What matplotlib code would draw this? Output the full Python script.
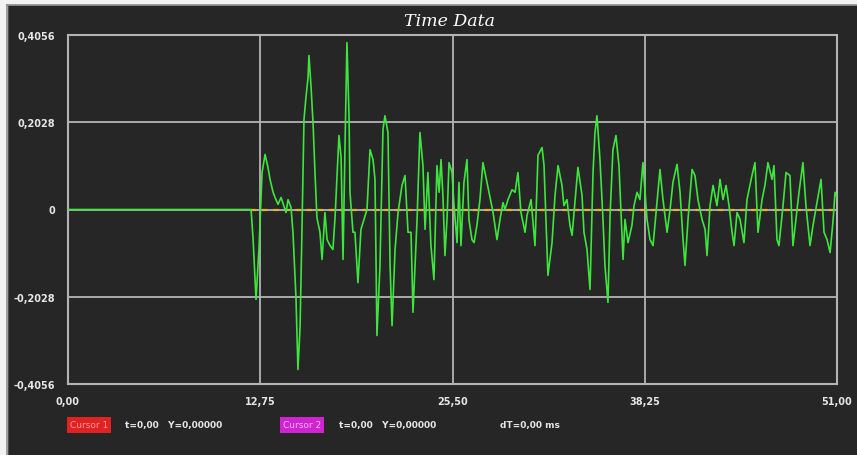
import numpy as np
import matplotlib
matplotlib.use('Agg')
import matplotlib.pyplot as plt
from matplotlib.patches import Rectangle
from matplotlib.lines import Line2D

# --- data (time, amplitude) ---
t = [0.00, 12.14, 12.27, 12.47, 12.67, 12.87, 13.07, 13.26, 13.40, 13.60, 13.73,
     13.93, 14.13, 14.26, 14.46, 14.59, 14.79, 14.92, 15.12, 15.25, 15.39, 15.52,
     15.65, 15.78, 15.92, 15.98, 16.12, 16.25, 16.38, 16.51, 16.71, 16.85, 17.04,
     17.18, 17.38, 17.57, 17.71, 17.84, 17.97, 18.11, 18.24, 18.37, 18.50, 18.64,
     18.70, 18.90, 19.03, 19.23, 19.43, 19.63, 19.83, 20.03, 20.23, 20.36, 20.49,
     20.69, 20.89, 21.02, 21.22, 21.36, 21.49, 21.69, 21.89, 22.15, 22.35, 22.55,
     22.75, 22.88, 23.15, 23.34, 23.54, 23.68, 23.87, 24.07, 24.27, 24.47, 24.61,
     24.74, 24.87, 25.00, 25.14, 25.27, 25.47, 25.60, 25.80, 25.93, 26.06, 26.26,
     26.46, 26.59, 26.79, 26.93, 27.12, 27.32, 27.52, 27.79, 27.92, 28.19, 28.45,
     28.65, 28.85, 28.98, 29.18, 29.45, 29.65, 29.84, 30.04, 30.31, 30.44, 30.71,
     30.97, 31.17, 31.44, 31.57, 31.83, 32.10, 32.30, 32.50, 32.76, 32.89, 33.09,
     33.29, 33.43, 33.62, 33.82, 34.09, 34.22, 34.42, 34.62, 34.82, 34.95, 35.08,
     35.28, 35.48, 35.61, 35.81, 35.95, 36.14, 36.34, 36.54, 36.81, 36.94, 37.14,
     37.40, 37.54, 37.74, 37.93, 38.13, 38.40, 38.60, 38.80, 39.06, 39.26, 39.46,
     39.73, 39.93, 40.12, 40.39, 40.59, 40.79, 40.92, 41.12, 41.39, 41.58, 41.78,
     42.05, 42.25, 42.38, 42.58, 42.78, 43.04, 43.24, 43.44, 43.64, 43.84, 44.04,
     44.17, 44.37, 44.57, 44.83, 45.03, 45.36, 45.56, 45.76, 46.03, 46.22, 46.42,
     46.69, 46.82, 47.02, 47.15, 47.42, 47.62, 47.88, 48.08, 48.28, 48.48, 48.74,
     48.94, 49.21, 49.41, 49.67, 49.94, 50.14, 50.34, 50.54, 50.73, 50.87, 51.00]

amp = [0.000, 0.000, -0.065, -0.209, -0.088, 0.086, 0.128, 0.098, 0.070, 0.040, 0.028,
       0.012, 0.028, 0.014, -0.007, 0.023, 0.005, -0.053, -0.205, -0.372, -0.274, -0.042,
       0.209, 0.260, 0.307, 0.358, 0.284, 0.202, 0.086, -0.019, -0.053, -0.116, -0.007,
       -0.070, -0.084, -0.093, -0.019, 0.079, 0.172, 0.121, -0.116, 0.144, 0.388, 0.214,
       0.040, -0.053, -0.053, -0.170, -0.046, -0.023, 0.000, 0.139, 0.116, 0.070, -0.293,
       -0.130, 0.186, 0.218, 0.179, -0.130, -0.270, -0.093, -0.007, 0.056, 0.079, -0.053,
       -0.053, -0.239, -0.023, 0.179, 0.102, -0.046, 0.086, -0.084, -0.163, 0.102, 0.040,
       0.116, 0.028, -0.107, -0.019, 0.109, 0.086, 0.009, -0.077, 0.063, -0.084, 0.063,
       0.116, -0.023, -0.070, -0.077, -0.037, 0.023, 0.109, 0.063, 0.040, -0.007, -0.070,
       -0.023, 0.016, 0.000, 0.023, 0.046, 0.040, 0.086, -0.007, -0.053, -0.014, 0.023,
       -0.084, 0.126, 0.144, 0.102, -0.153, -0.077, 0.033, 0.102, 0.056, 0.009, 0.023,
       -0.037, -0.060, 0.016, 0.098, 0.033, -0.053, -0.093, -0.186, 0.086, 0.179, 0.218,
       0.116, -0.023, -0.130, -0.216, -0.014, 0.139, 0.172, 0.102, -0.116, -0.023, -0.077,
       -0.037, 0.009, 0.040, 0.023, 0.109, -0.023, -0.070, -0.084, 0.016, 0.093, 0.023,
       -0.053, 0.000, 0.063, 0.105, 0.040, -0.070, -0.130, -0.023, 0.093, 0.079, 0.023,
       -0.023, -0.046, -0.107, 0.009, 0.056, 0.009, 0.070, 0.023, 0.056, 0.009, -0.053,
       -0.084, -0.007, -0.023, -0.077, 0.023, 0.079, 0.109, -0.053, 0.023, 0.056, 0.109,
       0.070, 0.102, -0.070, -0.084, 0.009, 0.086, 0.079, -0.084, -0.023, 0.040, 0.109,
       0.009, -0.084, -0.037, 0.016, 0.070, -0.053, -0.070, -0.100, -0.030, 0.040, 0.028]

xticks = [0.0, 12.75, 25.5, 38.25, 51.0]
xlabels = ['0,00', '12,75', '25,50', '38,25', '51,00']
yticks = [-0.4056, -0.2028, 0.0, 0.2028, 0.4056]
ylabels = ['-0,4056', '-0,2028', '0', '0,2028', '0,4056']

W, H = 857, 456
bg = '#262626'
grid_col = '#b4b4b4'


def px(x, y):
    # pixel position -> figure fraction
    return x / W, 1 - y / H


fig = plt.figure(figsize=(W / 100, H / 100), dpi=100, facecolor=bg)

# white margin + grey frame of the panel
fig.patches.append(Rectangle((0, 1 - 5 / H), 1, 5 / H, transform=fig.transFigure,
                             color='#f2f2f2', zorder=0))
fig.patches.append(Rectangle((0, 0), 7 / W, 1, transform=fig.transFigure,
                             color='#f2f2f2', zorder=0))
fig.lines.append(Line2D([7 / W, 1], [1 - 5.5 / H, 1 - 5.5 / H], transform=fig.transFigure,
                        color='#8c8c8c', lw=1.2))
fig.lines.append(Line2D([7.5 / W, 7.5 / W], [0, 1 - 5.5 / H], transform=fig.transFigure,
                        color='#8c8c8c', lw=1.2))

left, top = px(68, 36)
right, bottom = px(837, 385)
ax = fig.add_axes([left, bottom, right - left, top - bottom], facecolor=bg)

# zero marker is hidden under the flat trace until the signal starts
ax.hlines(0, t[1], 51, color='#e2b22c', lw=1.6, linestyles=[(0, (2.5, 2.5))], zorder=2)
ax.plot(t, amp, color='#3ce63c', lw=1.2, zorder=3)

ax.set_xlim(0, 51)
ax.set_ylim(-0.4056, 0.4056)
ax.set_xticks(xticks)
ax.set_yticks(yticks)
ax.set_xticklabels(xlabels)
ax.set_yticklabels(ylabels)
ax.tick_params(length=0, colors='#e6e6e6', labelsize=7, pad=9)
for lab in ax.get_xticklabels() + ax.get_yticklabels():
    lab.set_fontweight('bold')
ax.grid(True, color=grid_col, lw=1.3)
ax.set_axisbelow(True)
for s in ax.spines.values():
    s.set_color(grid_col)
    s.set_linewidth(1.5)

fig.text(*px(450, 22), 'Time Data', ha='center', va='center', color='white',
         fontsize=12.5, family='DejaVu Serif', style='italic')

# cursor readout row
fs = 6.5
fig.text(*px(70, 426), 'Cursor 1', ha='left', va='center', color='#ff9a9a', fontsize=fs,
         bbox=dict(boxstyle='square,pad=0.35', fc='#e02222', ec='none'))
fig.text(*px(125, 426), 't=0,00   Y=0,00000', ha='left', va='center', color='#e6e6e6',
         fontsize=fs, fontweight='bold')
fig.text(*px(283, 426), 'Cursor 2', ha='left', va='center', color='#ffb4ff', fontsize=fs,
         bbox=dict(boxstyle='square,pad=0.35', fc='#d024d0', ec='none'))
fig.text(*px(339, 426), 't=0,00   Y=0,00000', ha='left', va='center', color='#e6e6e6',
         fontsize=fs, fontweight='bold')
fig.text(*px(500, 426), 'dT=0,00 ms', ha='left', va='center', color='#e6e6e6',
         fontsize=fs, fontweight='bold')

fig.savefig('out.png', dpi=100, facecolor=bg)
